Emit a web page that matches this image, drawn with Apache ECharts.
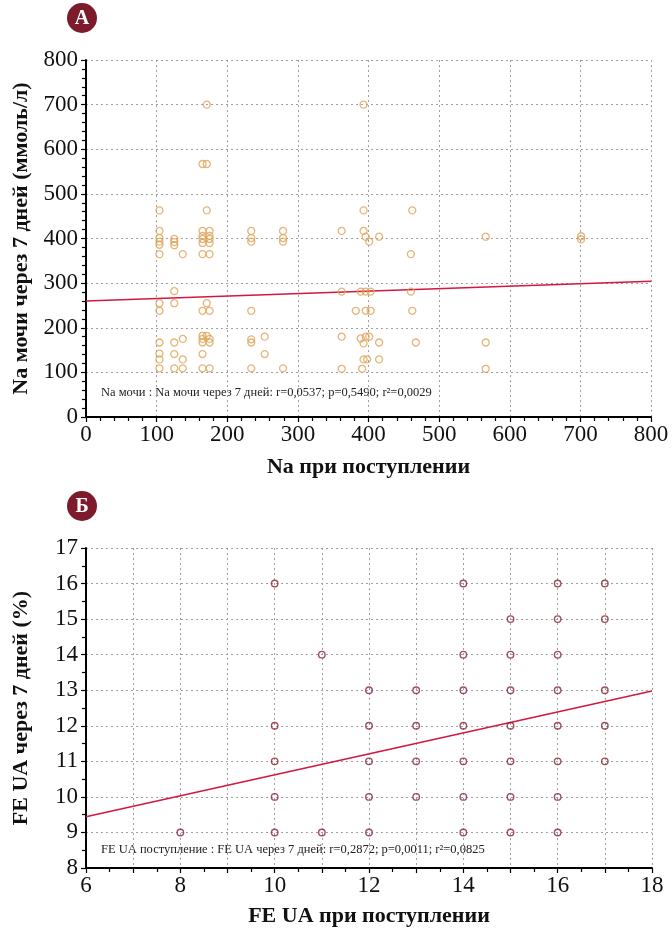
<!DOCTYPE html>
<html>
<head>
<meta charset="utf-8">
<script src="https://cdn.jsdelivr.net/npm/echarts@6/dist/echarts.min.js"></script>
<style>
html,body{margin:0;padding:0;background:#fff;}
#c{width:672px;height:933px;}
</style>
</head>
<body>
<div id="c"></div>
<script>
// ---- Panel A data: Na при поступлении vs Na мочи через 7 дней ----
var naX = [
 104,104,104,104,104,104,104,104,104,104,104,104,
 125,125,125,125,125,125,125,125,
 137,137,137,137,
 165,165,165,165,165,165,165,165,165,165,165,165,
 171,171,171,171,171,
 175,175,175,175,175,175,175,175,175,
 234,234,234,234,234,234,234,
 253,253,
 279,279,279,279,
 362,362,362,362,
 382,
 389,389,
 391,
 393,393,393,393,393,
 396,396,396,396,
 398,
 401,401,
 403,403,
 415,415,415,
 460,460,
 462,462,
 467,
 566,566,566,
 701,701
];
var naY = [
 463,417,401,393,386,365,255,238,167,142,129,109,
 399,392,385,282,255,167,141,109,
 365,175,129,109,
 567,417,406,399,390,365,238,182,175,167,141,109,
 700,567,463,255,182,
 417,406,399,390,365,238,175,167,109,
 417,401,393,238,174,167,109,
 180,141,
 417,401,393,109,
 417,281,180,108,
 238,
 281,176,
 108,
 700,463,417,165,129,
 404,281,238,180,
 129,
 393,180,
 281,238,
 404,167,129,
 365,281,
 463,238,
 167,
 404,167,108,
 405,398
];
var naFitX = [0, 800];
var naFitY = [260, 304];
var naXTicks = [0,100,200,300,400,500,600,700,800];
var naYTicks = [0,100,200,300,400,500,600,700,800];

// ---- Panel B data: FE UA при поступлении vs FE UA через 7 дней ----
var feX = [
 8,
 10,10,10,10,10,
 11,11,
 12,12,12,12,12,
 13,13,13,13,
 14,14,14,14,14,14,14,
 15,15,15,15,15,15,15,
 16,16,16,16,16,16,16,16,
 17,17,17,17,17
];
var feY = [
 9,
 16,12,11,10,9,
 14,9,
 13,12,11,10,9,
 13,12,11,10,
 16,14,13,12,11,10,9,
 15,14,13,12,11,10,9,
 16,15,14,13,12,11,10,9,
 16,15,13,12,11
];
var feFitX = [6, 18];
var feFitY = [9.44, 12.98];

var textA = 'Na мочи : Na мочи через 7 дней: r=0,0537; p=0,5490; r\u00B2=0,0029';
var textB = 'FE UA поступление : FE UA через 7 дней: r=0,2872; p=0,0011; r\u00B2=0,0825';
var nameAx = 'Na при поступлении';
var nameAy = 'Na мочи через 7 дней (ммоль/л)';
var nameBx = 'FE UA при поступлении';
var nameBy = 'FE UA через 7 дней (%)';

function zip(a, b) { return a.map(function (v, i) { return [v, b[i]]; }); }

var FONT = '"Liberation Serif", "DejaVu Serif", serif';
var grid = 'rgba(150,150,150,0.9)';
var LBL = 23;
var NAME = 22;

function axisCommon(extra) {
  var o = {
    type: 'value',
    axisLine: { show: true, lineStyle: { color: '#000', width: 2 } },
    axisTick: { show: true, length: 5, lineStyle: { color: '#000', width: 1.2 } },
    minorTick: { show: true, length: 4, lineStyle: { color: '#000', width: 1.2 } },
    splitLine: { show: true, lineStyle: { color: grid, type: [2, 3], width: 1 } },
    axisLabel: { color: '#111', fontFamily: FONT, fontSize: LBL },
    nameLocation: 'middle',
    nameTextStyle: { color: '#111', fontFamily: FONT, fontSize: NAME, fontWeight: 'bold' }
  };
  for (var k in extra) o[k] = extra[k];
  return o;
}

var chart = echarts.init(document.getElementById('c'), null, { renderer: 'canvas' });
chart.setOption({
  animation: false,
  backgroundColor: '#fff',
  grid: [
    { left: 86, top: 60, width: 565, height: 357 },
    { left: 86, top: 548, width: 566, height: 320 }
  ],
  xAxis: [
    axisCommon({ gridIndex: 0, min: naXTicks[0], max: naXTicks[naXTicks.length - 1], interval: 100,
      minorTick: { show: true, splitNumber: 5, length: 4, lineStyle: { color: '#000', width: 1.2 } },
      name: nameAx, nameGap: 39,
      axisLabel: { color: '#111', fontFamily: FONT, fontSize: LBL, margin: 6 } }),
    axisCommon({ gridIndex: 1, min: feFitX[0], max: feFitX[1], interval: 1,
      minorTick: { show: true, splitNumber: 2, length: 4, lineStyle: { color: '#000', width: 1.2 } },
      name: nameBx, nameGap: 37,
      axisLabel: { color: '#111', fontFamily: FONT, fontSize: LBL, margin: 6,
        formatter: function (v) { return v % 2 === 0 ? String(v) : ''; } } })
  ],
  yAxis: [
    axisCommon({ gridIndex: 0, min: naYTicks[0], max: naYTicks[naYTicks.length - 1], interval: 100,
      minorTick: { show: true, splitNumber: 5, length: 4, lineStyle: { color: '#000', width: 1.2 } },
      name: nameAy, nameGap: 54,
      axisLabel: { color: '#111', fontFamily: FONT, fontSize: LBL, margin: 8 } }),
    axisCommon({ gridIndex: 1, min: 8, max: 17, interval: 1,
      minorTick: { show: true, splitNumber: 2, length: 4, lineStyle: { color: '#000', width: 1.2 } },
      name: nameBy, nameGap: 54,
      axisLabel: { color: '#111', fontFamily: FONT, fontSize: LBL, margin: 8 } })
  ],
  series: [
    { type: 'scatter', xAxisIndex: 0, yAxisIndex: 0, data: zip(naX, naY),
      symbol: 'circle', symbolSize: 7,
      itemStyle: { color: 'rgba(255,255,255,0)', borderColor: '#DFA257', borderWidth: 1.3 } },
    { type: 'line', xAxisIndex: 0, yAxisIndex: 0, data: zip(naFitX, naFitY),
      symbol: 'none', lineStyle: { color: '#D4173F', width: 1.5 }, z: 1 },
    { type: 'scatter', xAxisIndex: 1, yAxisIndex: 1, data: zip(feX, feY),
      symbol: 'circle', symbolSize: 6.5,
      itemStyle: { color: 'rgba(255,255,255,0)', borderColor: '#8A2234', borderWidth: 1.4 } },
    { type: 'line', xAxisIndex: 1, yAxisIndex: 1, data: zip(feFitX, feFitY),
      symbol: 'none', lineStyle: { color: '#D4173F', width: 1.5 }, z: 1 }
  ],
  graphic: [
    { type: 'circle', shape: { cx: 82, cy: 18, r: 15 }, style: { fill: '#7D1A2B' } },
    { type: 'text', x: 82, y: 19, style: { text: 'A', fill: '#fff', font: 'bold 20px ' + FONT, align: 'center', verticalAlign: 'middle' } },
    { type: 'circle', shape: { cx: 82, cy: 506, r: 15 }, style: { fill: '#7D1A2B' } },
    { type: 'text', x: 82, y: 507, style: { text: 'Б', fill: '#fff', font: 'bold 20px ' + FONT, align: 'center', verticalAlign: 'middle' } },
    { type: 'text', x: 101, y: 393, style: { text: textA, fill: '#222', font: '12.5px ' + FONT, verticalAlign: 'middle' } },
    { type: 'text', x: 101, y: 850, style: { text: textB, fill: '#222', font: '12.5px ' + FONT, verticalAlign: 'middle' } }
  ]
});
</script>
</body>
</html>
